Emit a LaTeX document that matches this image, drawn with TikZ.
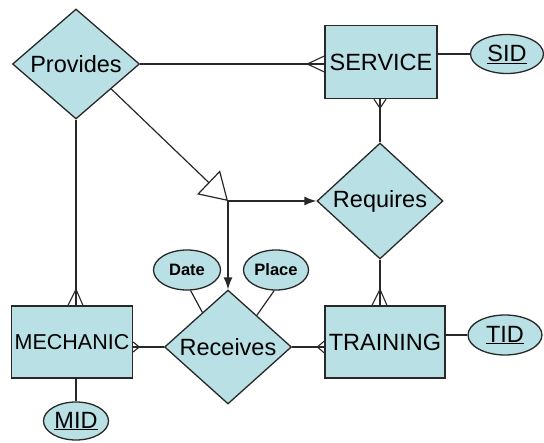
\documentclass[tikz,border=0pt]{standalone}
\usepackage{fontspec}
\setmainfont{Liberation Sans}
\usetikzlibrary{shapes.geometric,arrows.meta,calc}
\definecolor{erfill}{RGB}{185,224,228}
\definecolor{erline}{RGB}{40,40,40}
\begin{document}
\begin{tikzpicture}[x=1pt,y=-1pt,
  base/.style={draw=erline,line width=1.3pt,fill=erfill,inner sep=0pt,
    font=\fontsize{23.5}{27}\selectfont},
  entity/.style={base,rectangle},
  relation/.style={base,diamond},
  attrib/.style={base,ellipse},
  smallattr/.style={base,ellipse,font=\fontsize{16.5}{19}\selectfont\bfseries},
  link/.style={draw=erline,line width=1.2pt},
  foot/.style={draw=erline,line width=1.1pt},
  solidtip/.style={-{Latex[length=12pt,width=9pt]}},
]
\useasboundingbox (0,0) rectangle (544,443);

% relationships
\node[relation,minimum width=127pt,minimum height=110pt] (prov) at (76,64) {Provides};
\node[relation,minimum width=126pt,minimum height=96pt] (req) at (380,201) {Requires};
\node[relation,minimum width=127pt,minimum height=114pt] (rec) at (228,347) {Receives};

% entities
\node[entity,minimum width=112pt,minimum height=73pt] (svc) at (381,62) {SERVICE};
\node[entity,minimum width=121pt,minimum height=72pt,
  font=\fontsize{21.5}{25}\selectfont] (mech) at (72,342) {MECHANIC};
\node[entity,minimum width=120pt,minimum height=72pt] (trn) at (385,342) {TRAINING};

% attributes
\node[attrib,minimum width=73pt,minimum height=39pt] (sid) at (507,54) {\underline{SID}};
\node[attrib,minimum width=65pt,minimum height=38pt] (mid) at (76,421) {\underline{MID}};
\node[attrib,minimum width=74pt,minimum height=40pt] (tid) at (505,335) {\underline{TID}};
\node[smallattr,minimum width=67pt,minimum height=40pt] (date) at (187,270) {Date};
\node[smallattr,minimum width=65pt,minimum height=40pt] (place) at (276,270) {Place};

% plain connectors
\draw[link] (prov.east) -- (prov.east -| svc.west);
\draw[link] (req.north) -- (req.north |- svc.south);
\draw[link] (prov.south) -- (prov.south |- mech.north);
\draw[link] (mid.north) -- (mid.north |- mech.south);
\draw[link] (rec.west) -- (rec.west -| mech.east);
\draw[link] (rec.east) -- (rec.east -| trn.west);
\draw[link] (req.south) -- (req.south |- trn.north);
\draw[link] (sid.west) -- (sid.west -| svc.east);
\draw[link] (tid.west) -- (tid.west -| trn.east);
\draw[link] (date.-80) -- ($(rec.west)!0.6!(rec.north)$);
\draw[link] (place.-95) -- ($(rec.north)!0.45!(rec.east)$);

% crow's feet
\coordinate (f1) at (prov.east -| svc.west);
\draw[foot] ($(f1)+(0,-8)$) -- ($(f1)+(-17,0)$) -- ($(f1)+(0,8)$);
\coordinate (f2) at (req.north |- svc.south);
\draw[foot] ($(f2)+(-6,0)$) -- ($(f2)+(0,9)$) -- ($(f2)+(6,0)$);
\coordinate (f3) at (prov.south |- mech.north);
\draw[foot] ($(f3)+(-8,0)$) -- ($(f3)+(0,-16)$) -- ($(f3)+(7,0)$);
\coordinate (f4) at (req.south |- trn.north);
\draw[foot] ($(f4)+(-8,0)$) -- ($(f4)+(0,-16)$) -- ($(f4)+(7,0)$);
\coordinate (f5) at (rec.east -| trn.west);
\draw[foot] ($(f5)+(0,-6)$) -- ($(f5)+(-7,0)$) -- ($(f5)+(0,6)$);
\coordinate (f6) at (rec.west -| mech.east);
\draw[foot] ($(f6)+(0,-5)$) -- ($(f6)+(6,0)$) -- ($(f6)+(0,5)$);

% aggregation arrows
\coordinate (jn) at (req.west -| rec.north);
\draw[link,-{Triangle[open,fill=white,length=27pt,width=33pt]}]
  ($(prov.east)!0.45!(prov.south)$) -- (jn);
\draw[link,solidtip] (jn) -- (req.west);
\draw[link,solidtip] (jn) -- (rec.north);
\end{tikzpicture}
\end{document}
